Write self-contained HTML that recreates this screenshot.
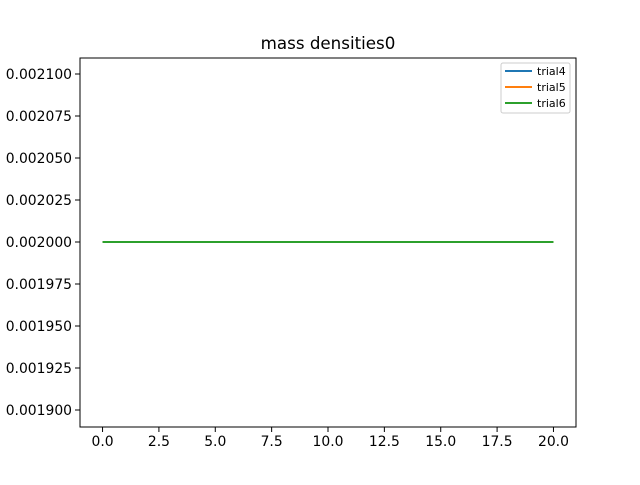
<!DOCTYPE html>
<html><head><meta charset="utf-8"><style>
body{margin:0;background:#fff;font-family:"Liberation Sans","DejaVu Sans",sans-serif}
text{font-family:"DejaVu Sans","Liberation Sans",sans-serif}
</style></head><body>
<svg id="chart" width="640" height="480" xmlns="http://www.w3.org/2000/svg">
<rect width="640" height="480" fill="#fff"/>
<text x="328" y="49" font-size="16.7" text-anchor="middle">mass densities0</text>
<g id="marks"></g>
<rect x="80" y="58" width="496" height="369" fill="none" stroke="#000" stroke-width="1"/>
<g id="xticks"></g><g id="yticks"></g>
<g>
<rect x="501" y="63" width="69" height="50" rx="2" fill="#fff" fill-opacity="0.8" stroke="#ccc" stroke-width="1"/>
<g id="legend"></g>
</g>
</svg>
<script>
const xs=[0,20];
const series4=[0.002,0.002];
const series5=[0.002,0.002];
const series6=[0.002,0.002];
const names=["trial4","trial5","trial6"];
const colors=["#1f77b4","#ff7f0e","#2ca02c"];
const xTicks=[0,2.5,5,7.5,10,12.5,15,17.5,20];
const yTicks=[0.0019,0.001925,0.00195,0.001975,0.002,0.002025,0.00205,0.002075,0.0021];
const NS="http://www.w3.org/2000/svg";
const X=v=>80+(v+1)/22*496;
const Y=v=>410-(v-0.0019)/0.0002*336;
function mk(t,a,p){const e=document.createElementNS(NS,t);for(const k in a)e.setAttribute(k,a[k]);p.appendChild(e);return e;}
const marks=document.getElementById('marks');
[series4,series5,series6].forEach((s,i)=>{
 const pl=mk('polyline',{points:s.map((v,j)=>X(xs[j])+','+Y(v)).join(' '),fill:'none',stroke:colors[i],'stroke-width':2},marks);
 
 
});
const xt=document.getElementById('xticks');
xTicks.forEach(v=>{
 const l=mk('line',{x1:X(v),x2:X(v),y1:427,y2:432,stroke:'#000','stroke-width':1},xt);
 
 
 const t=mk('text',{x:X(v),y:446,'font-size':13.9,'text-anchor':'middle'},xt);t.textContent=v.toFixed(1);
 
 
});
const yt=document.getElementById('yticks');
yTicks.forEach(v=>{
 const l=mk('line',{x1:75,x2:80,y1:Y(v),y2:Y(v),stroke:'#000','stroke-width':1},yt);
 
 
 const t=mk('text',{x:72,y:Y(v)+5,'font-size':13.9,'text-anchor':'end'},yt);t.textContent=v.toFixed(6);
 
 
});
const lg=document.getElementById('legend');
names.forEach((n,i)=>{
 const y=71+i*16;
 const l=mk('line',{x1:505,x2:532,y1:y,y2:y,stroke:colors[i],'stroke-width':2},lg);
 
 
 const t=mk('text',{x:537,y:y+4,'font-size':11},lg);t.textContent=n;
 
 
});
</script>
</body></html>
